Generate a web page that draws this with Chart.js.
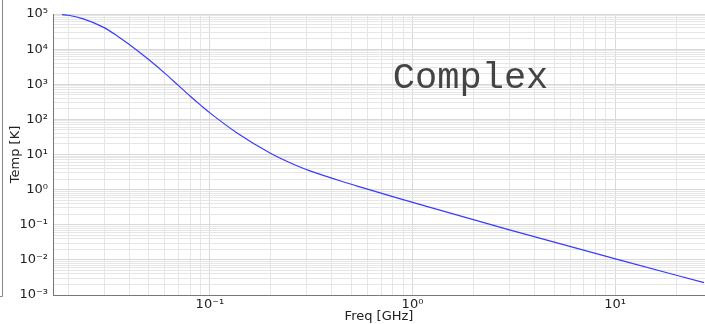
<!DOCTYPE html>
<html lang="en">
<head>
  <meta charset="UTF-8">
  <title>Temp vs Freq</title>
  <script src="https://cdn.jsdelivr.net/npm/chart.js"></script>
  <style>
    html, body { margin: 0; padding: 0; background: #fff; }
    #wrap { width: 705px; height: 324px; position: relative; }
  </style>
</head>
<body>
  <div id="wrap"><canvas id="tempChart"></canvas></div>

  <script>
    // Values (GHz, K)
    const freqGHz = [0.0186, 0.02, 0.0237, 0.0297, 0.035, 0.04, 0.05, 0.06, 0.07, 0.08, 0.09, 0.1,
                     0.135, 0.2, 0.278, 0.312, 0.45, 0.566, 0.863, 1.21, 3.01, 10.7, 27.5];
    const tempK = [95500, 92300, 72600, 42300, 23400, 13550, 4970, 2040, 914, 456, 254, 153,
                   42.4, 10.7, 4.40, 3.41, 1.70, 1.14, 0.556, 0.317, 0.0718, 0.0097, 0.00224];
    const xRange = [0.0168, 27.8];
    const yRange = [1e-3, 1e5];
    const superDigits = { '-': '⁻', '0': '⁰', '1': '¹', '2': '²', '3': '³', '4': '⁴', '5': '⁵', '6': '⁶', '7': '⁷', '8': '⁸', '9': '⁹' };

    function decadeLabel(v) {
      const e = Math.log10(v);
      if (Math.abs(e - Math.round(e)) > 1e-9) return '';
      return '10' + String(Math.round(e)).split('').map(c => superDigits[c]).join('');
    }

    // 1..9 x 10^n ticks inside the range
    function logTicks(scale) {
      const ticks = [];
      for (let e = Math.floor(Math.log10(scale.min)); e <= Math.ceil(Math.log10(scale.max)); e++) {
        for (let m = 1; m <= 9; m++) {
          const v = m * Math.pow(10, e);
          if (v >= scale.min * 0.9999 && v <= scale.max * 1.0001) ticks.push({ value: v, major: m === 1 });
        }
      }
      scale.ticks = ticks;
    }

    // annotation text, y title and the stray axis at the far left
    const extras = {
      id: 'extras',
      afterDraw(chart) {
        const ctx = chart.ctx;
        const x = chart.scales.x, y = chart.scales.y;
        ctx.save();
        ctx.font = '37px "Liberation Mono", "Courier New", monospace';
        ctx.fillStyle = '#444';
        ctx.textBaseline = 'alphabetic';
        ctx.fillText('Complex', x.getPixelForValue(0.80), y.getPixelForValue(800));

        ctx.font = '13px "DejaVu Sans"';
        ctx.fillStyle = '#222';
        ctx.textAlign = 'center';
        ctx.textBaseline = 'middle';
        ctx.translate(16, (y.top + y.bottom) / 2);
        ctx.rotate(-Math.PI / 2);
        ctx.fillText('Temp [K]', 0, 0);
        ctx.setTransform(1, 0, 0, 1, 0, 0);

        ctx.strokeStyle = '#888';
        ctx.lineWidth = 1;
        ctx.beginPath();
        ctx.moveTo(2.5, 0);
        ctx.lineTo(2.5, 296.5);
        ctx.lineTo(0, 296.5);
        ctx.stroke();
        ctx.restore();
      }
    };

    const gridColor = ctx => ctx.tick && ctx.tick.major ? '#d8d8d8' : '#e6e6e6';

    new Chart(document.getElementById('tempChart'), {
      type: 'line',
      data: {
        datasets: [{
          data: freqGHz.map((f, i) => ({ x: f, y: tempK[i] })),
          borderColor: '#3a3aff',
          borderWidth: 1.2,
          pointRadius: 0,
          cubicInterpolationMode: 'monotone',
          fill: false
        }]
      },
      options: {
        responsive: true,
        maintainAspectRatio: false,
        animation: false,
        layout: { padding: { top: 14, right: 0, left: 0, bottom: 0 } },
        plugins: { legend: { display: false }, tooltip: { enabled: false } },
        scales: {
          x: {
            type: 'logarithmic',
            min: xRange[0],
            max: xRange[1],
            afterBuildTicks: logTicks,
            afterFit: s => { s.height = 29; },
            grid: { color: gridColor, drawTicks: false },
            border: { color: '#777' },
            ticks: {
              autoSkip: false, maxRotation: 0, padding: 2,
              color: '#222', font: { family: 'DejaVu Sans', size: 13 },
              callback: v => decadeLabel(v)
            },
            title: { display: true, text: 'Freq [GHz]', color: '#222', padding: 0, font: { family: 'DejaVu Sans', size: 13 } }
          },
          y: {
            type: 'logarithmic',
            min: yRange[0],
            max: yRange[1],
            afterBuildTicks: logTicks,
            afterFit: s => { s.width = 53; },
            grid: { color: gridColor, drawTicks: false },
            border: { color: '#777' },
            ticks: {
              autoSkip: false, padding: 5,
              color: '#222', font: { family: 'DejaVu Sans', size: 13 },
              callback: v => decadeLabel(v)
            }
          }
        }
      },
      plugins: [extras]
    });
  </script>
</body>
</html>
